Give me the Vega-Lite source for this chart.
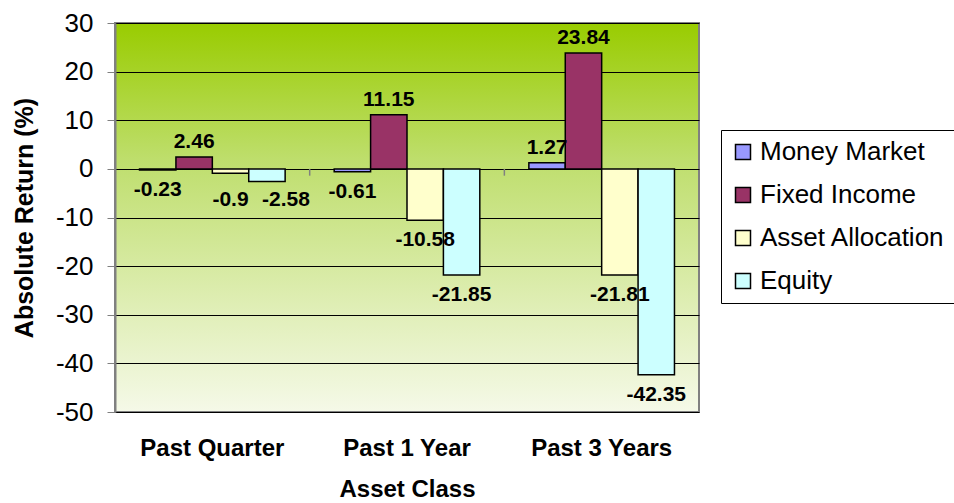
{
  "$schema": "https://vega.github.io/schema/vega-lite/v6.json",
  "width": 584,
  "height": 389,
  "autosize": {"type": "none"},
  "padding": {"left": 115, "top": 23, "right": 255, "bottom": 91},
  "background": "white",
  "config": {
    "font": "Liberation Sans",
    "view": {
      "fill": {"gradient": "linear", "x1": 0, "y1": 0, "x2": 0, "y2": 1,
        "stops": [
          {"offset": 0, "color": "#99CC00"},
          {"offset": 0.35, "color": "#BEDE6C"},
          {"offset": 0.7, "color": "#DDEDB0"},
          {"offset": 1, "color": "#F5F9E8"}
        ]},
      "stroke": "#808080",
      "strokeWidth": 2
    }
  },
  "data": {
    "values": [
      {"period": "Past Quarter", "series": "Money Market", "value": -0.23},
      {"period": "Past Quarter", "series": "Fixed Income", "value": 2.46},
      {"period": "Past Quarter", "series": "Asset Allocation", "value": -0.9},
      {"period": "Past Quarter", "series": "Equity", "value": -2.58},
      {"period": "Past 1 Year", "series": "Money Market", "value": -0.61},
      {"period": "Past 1 Year", "series": "Fixed Income", "value": 11.15},
      {"period": "Past 1 Year", "series": "Asset Allocation", "value": -10.58},
      {"period": "Past 1 Year", "series": "Equity", "value": -21.85},
      {"period": "Past 3 Years", "series": "Money Market", "value": 1.27},
      {"period": "Past 3 Years", "series": "Fixed Income", "value": 23.84},
      {"period": "Past 3 Years", "series": "Asset Allocation", "value": -21.81},
      {"period": "Past 3 Years", "series": "Equity", "value": -42.35}
    ]
  },
  "encoding": {
    "x": {
      "field": "period", "type": "nominal",
      "sort": ["Past Quarter", "Past 1 Year", "Past 3 Years"],
      "scale": {"paddingInner": 0.252, "paddingOuter": 0.126},
      "axis": {
        "title": "Asset Class", "titleFontSize": 24, "titleFontWeight": "bold", "titleColor": "black",
        "titlePadding": 17,
        "labelFontSize": 24, "labelFontWeight": "bold", "labelColor": "black", "labelAngle": 0,
        "labelPadding": 24, "ticks": false, "domain": false
      }
    },
    "xOffset": {
      "field": "series", "type": "nominal",
      "sort": ["Money Market", "Fixed Income", "Asset Allocation", "Equity"],
      "scale": {"paddingInner": 0, "paddingOuter": 0}
    }
  },
  "layer": [
    {
      "mark": {"type": "bar", "stroke": "black", "strokeWidth": 1.5},
      "encoding": {
        "y": {
          "field": "value", "type": "quantitative",
          "scale": {"domain": [-50, 30], "nice": false, "zero": true},
          "axis": {
            "title": "Absolute Return (%)", "titleFontSize": 25, "titleFontWeight": "bold", "titleColor": "black",
            "titlePadding": 18,
            "values": [-50, -40, -30, -20, -10, 0, 10, 20, 30],
            "labelExpr": "datum.value",
            "labelFontSize": 26, "labelColor": "black", "labelPadding": 14,
            "tickSize": 8, "tickColor": "#808080", "domainColor": "#808080", "domainWidth": 2,
            "grid": true, "gridColor": "black", "gridWidth": 1, "gridOpacity": 1
          }
        },
        "fill": {
          "field": "series", "type": "nominal",
          "sort": ["Money Market", "Fixed Income", "Asset Allocation", "Equity"],
          "scale": {
            "domain": ["Money Market", "Fixed Income", "Asset Allocation", "Equity"],
            "range": ["#9999FF", "#993366", "#FFFFCC", "#CCFFFF"]
          },
          "legend": {
            "title": null, "orient": "none", "legendX": 606, "legendY": 107,
            "labelFontSize": 26, "labelColor": "black", "labelLimit": 400,
            "symbolType": "square", "symbolSize": 225, "symbolStrokeColor": "black", "symbolStrokeWidth": 1.5,
            "symbolOpacity": 1, "rowPadding": 17, "labelOffset": 4,
            "padding": 9, "strokeColor": "black", "fillColor": "white"
          }
        }
      }
    },
    {
      "mark": {"type": "rule", "color": "#808080", "strokeWidth": 1.5, "xOffset": -24.5},
      "transform": [{"filter": "datum.series === 'Money Market' && datum.period !== 'Past Quarter'"}],
      "encoding": {
        "x": {"field": "period", "type": "nominal", "sort": ["Past Quarter", "Past 1 Year", "Past 3 Years"], "bandPosition": 0},
        "xOffset": {"value": -24.5},
        "y": {"datum": 0, "type": "quantitative"},
        "y2": {"datum": -1.4}
      }
    },
    {
      "mark": {"type": "text", "fontSize": 21, "fontWeight": "bold", "baseline": "bottom", "dy": -5, "color": "black"},
      "transform": [{"filter": "datum.value >= 0"}],
      "encoding": {
        "y": {"field": "value", "type": "quantitative"},
        "text": {"field": "value", "type": "nominal"}
      }
    },
    {
      "mark": {"type": "text", "fontSize": 21, "fontWeight": "bold", "baseline": "top", "dy": 9, "color": "black"},
      "transform": [{"filter": "datum.value < 0 && !(datum.period === 'Past Quarter' && (datum.series === 'Asset Allocation' || datum.series === 'Equity'))"}],
      "encoding": {
        "y": {"field": "value", "type": "quantitative"},
        "text": {"field": "value", "type": "nominal"}
      }
    },
    {
      "mark": {"type": "text", "fontSize": 21, "fontWeight": "bold", "baseline": "top", "dy": 16, "color": "black"},
      "transform": [{"filter": "datum.period === 'Past Quarter' && datum.series === 'Asset Allocation'"}],
      "encoding": {
        "y": {"field": "value", "type": "quantitative"},
        "text": {"field": "value", "type": "nominal"}
      }
    },
    {
      "mark": {"type": "text", "fontSize": 21, "fontWeight": "bold", "baseline": "top", "dy": 8, "dx": 19, "color": "black"},
      "transform": [{"filter": "datum.period === 'Past Quarter' && datum.series === 'Equity'"}],
      "encoding": {
        "y": {"field": "value", "type": "quantitative"},
        "text": {"field": "value", "type": "nominal"}
      }
    }
  ]
}
